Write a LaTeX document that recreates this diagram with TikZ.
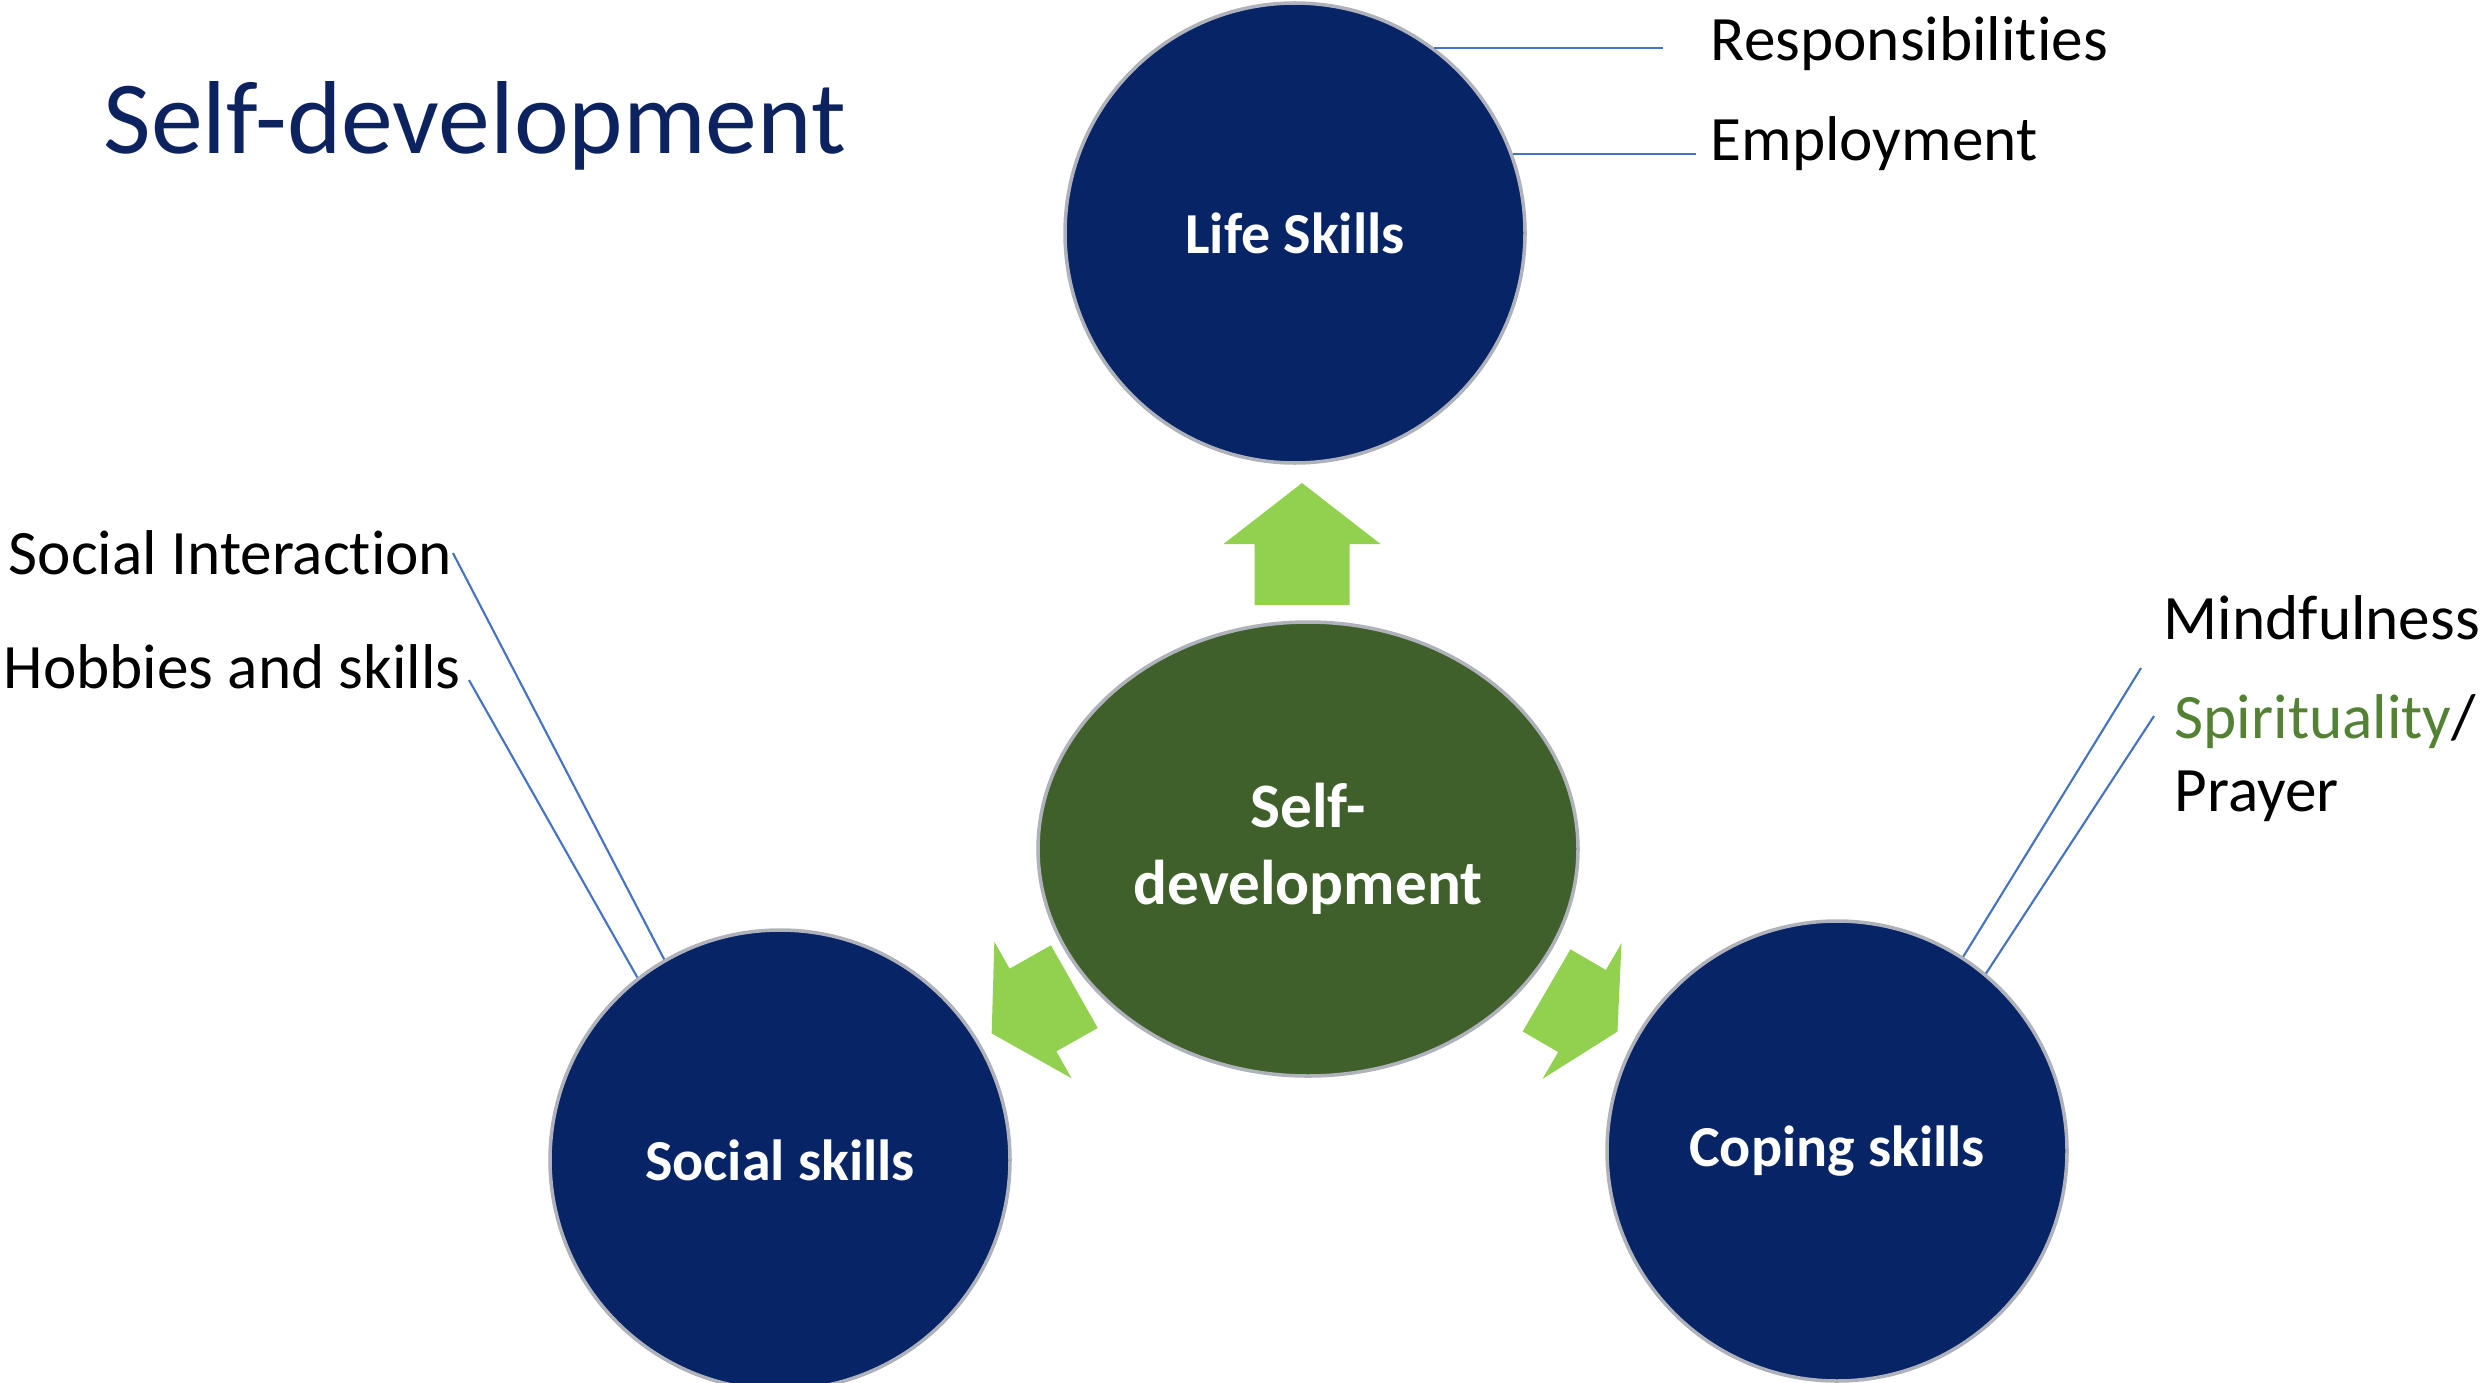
\documentclass[tikz,border=0pt]{standalone}
\usepackage{fontspec}
\setmainfont[Ligatures=NoCommon]{Carlito}
\usetikzlibrary{shapes.geometric}

\definecolor{titleblue}{RGB}{12,35,96}
\definecolor{skillblue}{RGB}{6,36,102}
\definecolor{coregreen}{RGB}{63,96,43}
\definecolor{arrowgreen}{RGB}{146,208,80}
\definecolor{leaderblue}{RGB}{68,114,196}
\definecolor{spiritgreen}{RGB}{84,130,53}
\definecolor{rimgray}{RGB}{175,178,186}

\begin{document}
\begin{tikzpicture}[
  skill/.style={circle, fill=skillblue, draw=rimgray, line width=1pt, minimum size=4.6cm, inner sep=0pt, text=white, font=\fontsize{16.5}{20}\selectfont\bfseries},
  core/.style={ellipse, fill=coregreen, draw=rimgray, line width=1pt, minimum width=5.4cm, minimum height=4.54cm, inner sep=0pt, text=white, align=center, font=\fontsize{18}{22}\selectfont\bfseries},
  item/.style={inner sep=0pt, font=\fontsize{18}{21.6}\selectfont},
  leader/.style={leaderblue, line width=0.6pt},
  pics/fatarrow/.style={code={
    \fill[arrowgreen] (-#1,-0.475) -- (0,-0.475) -- (0,-0.785) -- (#1,0) -- (0,0.785) -- (0,0.475) -- (-#1,0.475) -- cycle;
  }}
]
\useasboundingbox (0,0) rectangle (24.83,-13.83);

% title
\node[anchor=base west, inner sep=0pt, text=titleblue, font=\fontsize{29.5}{35}\selectfont] (title) at (1.03,-1.54) {Self-development};

% centre and the three skills
\node[core] (selfdev) at (13.08,-8.49) {Self-\\development};
\node[skill] (life) at (12.95,-2.33) {Life Skills};
\node[skill] (social) at (7.80,-11.60) {Social skills};
\node[skill] (coping) at (18.37,-11.51) {Coping skills};

% green arrows
\pic[rotate=90] at (13.02,-5.44) {fatarrow=0.61};
\pic[rotate=209.5] at (10.33,-10.10) {fatarrow=0.475};
\pic[rotate=-30.2] at (15.82,-10.11) {fatarrow=0.41};

% labels
\node[item, anchor=west] (resp) at (17.10,-0.44) {Responsibilities};
\node[item, anchor=west] (emp) at (17.10,-1.44) {Employment};
\node[item, anchor=west] (si) at (0.08,-5.53) {Social Interaction};
\node[item, anchor=west] (hob) at (0.03,-6.67) {Hobbies and skills};
\node[item, anchor=west] (mind) at (21.63,-6.18) {Mindfulness};
\node[item, anchor=base west] (spir) at (21.74,-7.38) {\textcolor{spiritgreen}{Spirituality}/};
\node[item, anchor=base west] (prayer) at (21.74,-8.11) {Prayer};
\coordinate (mindend) at (21.41,-6.68);
\coordinate (spirend) at (21.54,-7.16);

% leader lines
\draw[leader, shorten >=0.47cm] (life.53) -- (life.53 -| resp.west);
\draw[leader, shorten >=0.14cm] (life.20) -- (life.20 -| emp.west);
\draw[leader] (si.east) -- (social.120);
\draw[leader, shorten <=0.15cm] (hob.east) -- (social.128);
\draw[leader] (mindend) -- (coping.57);
\draw[leader] (spirend) -- (coping.50);
\end{tikzpicture}
\end{document}
